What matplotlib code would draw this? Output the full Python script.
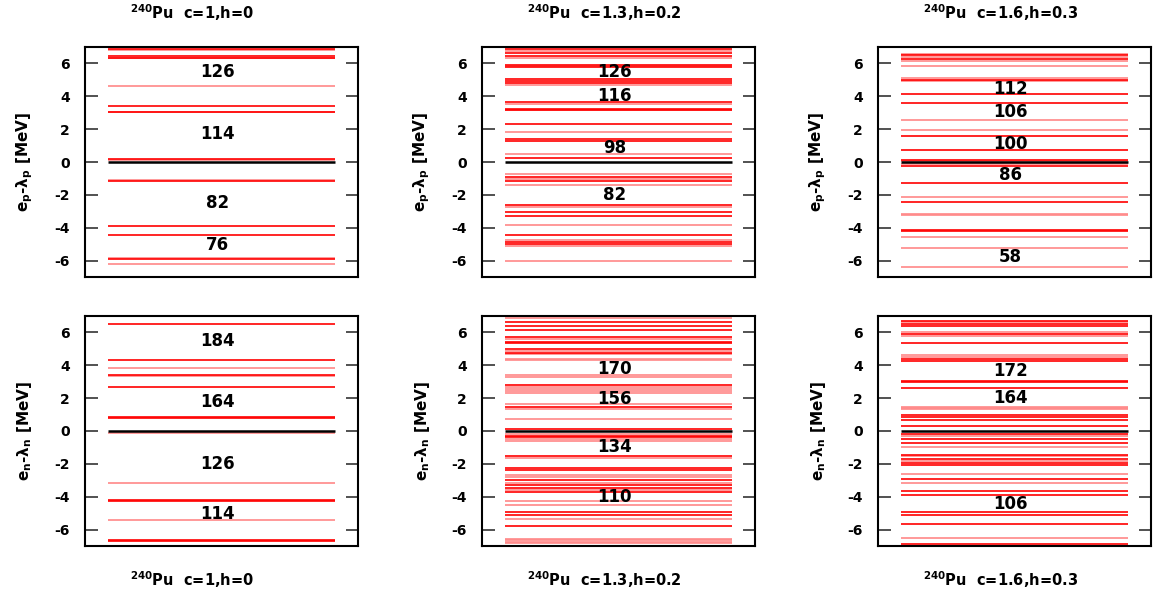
import matplotlib
matplotlib.use("Agg")
import matplotlib.pyplot as plt

plt.rcParams['font.family'] = ['DejaVu Sans']
plt.rcParams['font.weight'] = 'bold'
plt.rcParams['mathtext.fontset'] = 'dejavusans'
plt.rcParams['mathtext.default'] = 'bf'

# ---------------- data ----------------
titles = ["c=1,h=0", "c=1.3,h=0.2", "c=1.6,h=0.3"]

# protons (top row): strong (red) and weak (light red) levels, MeV relative to lambda_p
p_strong_1 = [6.88, 6.48, 6.32, 3.42, 3.06, 0.18, -1.15, -3.87, -4.47, -5.89]
p_weak_1 = [6.84, 6.36, 4.64, 3.02, 0.14, -1.12, -5.85, -6.23]
p_magic_1 = ["126", "114", "82", "76"]
p_magic_y_1 = [5.48, 1.73, -2.49, -5.03]

p_strong_2 = [6.88, 6.62, 6.48, 5.91, 5.79, 5.06, 4.94, 4.82, 3.64, 3.24, 3.14, 2.33,
              1.38, 1.30, 0.24, -0.93, -1.17, -2.59, -3.02, -3.26, -4.47, -4.86, -4.98]
p_weak_2 = [6.76, 6.36, 5.85, 4.70, 3.56, 3.19, 1.82, 0.49, -0.71, -1.01, -1.38, -2.73,
            -3.83, -4.76, -5.10, -6.01]
p_magic_2 = ["126", "116", "98", "82"]
p_magic_y_2 = [5.48, 4.00, 0.86, -1.98]

p_strong_3 = [6.50, 6.28, 5.02, 4.15, 3.62, 1.58, 0.75, 0.14, -0.24, -1.26, -2.41,
              -4.11, -4.19]
p_weak_3 = [6.60, 6.40, 6.17, 5.83, 5.12, 4.92, 2.53, 1.92, 0.08, -0.14, -2.13, -3.14,
            -3.24, -4.57, -5.22, -6.38]
p_magic_3 = ["112", "106", "100", "86", "58"]
p_magic_y_3 = [4.46, 3.02, 1.10, -0.77, -5.80]

# neutrons (bottom row)
n_strong_1 = [6.50, 4.31, 3.40, 2.65, 0.85, 0.82, -4.21, -4.26, -6.64, -6.68]
n_weak_1 = [3.83, 3.34, -0.12, -3.18, -5.40]
n_magic_1 = ["184", "164", "126", "114"]
n_magic_y_1 = [5.48, 1.78, -1.99, -5.03]

n_strong_2 = [6.98, 6.66, 6.42, 6.17, 5.71, 5.43, 5.34, 4.98, 4.74, 2.77, 1.48, 0.14,
              -0.28, -0.38, -1.50, -2.25, -2.35, -2.96, -3.28, -3.48, -3.70, -4.94,
              -5.14, -5.81]
n_weak_2 = [6.90, 5.59, 4.86, 4.66, 4.41, 4.31, 3.38, 3.28, 2.67, 2.53, 2.41, 2.29,
            1.64, 1.36, 0.75, -0.18, -0.49, -0.61, -1.62, -2.67, -2.79, -3.16, -3.58,
            -4.27, -4.53, -5.36, -6.58, -6.66, -6.74, -6.84]
n_magic_2 = ["170", "156", "134", "110"]
n_magic_y_2 = [3.79, 1.93, -0.97, -4.00]

n_strong_3 = [6.72, 6.52, 6.42, 5.89, 5.36, 4.39, 4.27, 3.04, 3.00, 2.63, 0.95, 0.85,
              0.69, 0.32, -0.20, -0.51, -0.71, -1.44, -1.70, -1.96, -2.06, -2.92,
              -3.68, -3.89, -4.94, -5.14, -5.69, -6.90]
n_weak_3 = [6.62, 6.00, 5.77, 4.61, 4.51, 1.48, 1.40, 1.32, -0.30, -0.97, -1.54,
            -1.80, -2.61, -3.18, -6.54]
n_magic_3 = ["172", "164", "106"]
n_magic_y_3 = [3.65, 1.99, -4.46]

yticks = [-6, -4, -2, 0, 2, 4, 6]

# ---------------- figure ----------------
W, H = 1156, 599
fig = plt.figure(figsize=(W / 100, H / 100), dpi=100)

lefts = [85, 482, 878]
ax_w = 273
rows = [(47, 277), (316, 546)]

panels = [
    [(p_strong_1, p_weak_1, p_magic_1, p_magic_y_1),
     (p_strong_2, p_weak_2, p_magic_2, p_magic_y_2),
     (p_strong_3, p_weak_3, p_magic_3, p_magic_y_3)],
    [(n_strong_1, n_weak_1, n_magic_1, n_magic_y_1),
     (n_strong_2, n_weak_2, n_magic_2, n_magic_y_2),
     (n_strong_3, n_weak_3, n_magic_3, n_magic_y_3)],
]
ylabels = ["e$_\\mathbf{p}$-λ$_\\mathbf{p}$ [MeV]", "e$_\\mathbf{n}$-λ$_\\mathbf{n}$ [MeV]"]

for r, (top, bot) in enumerate(rows):
    for c in range(3):
        strong, weak, magic, magic_y = panels[r][c]
        left = lefts[c]
        ax = fig.add_axes([left / W, (H - bot) / H, ax_w / W, (bot - top) / H])
        ax.set_xlim(0, 1)
        ax.set_ylim(-7, 7)
        ax.hlines(weak, 0.084, 0.916, colors='#ff8888', linewidth=1.2)
        ax.hlines(strong, 0.084, 0.916, colors='#ff0000', linewidth=1.2)
        ax.hlines([0], 0.084, 0.916, colors='black', linewidth=1.8)
        for lab, yy in zip(magic, magic_y):
            ax.text(0.485, yy, lab, ha='center', va='center', fontsize=12,
                    fontweight='bold')
        ax.set_xticks([])
        ax.set_yticks(yticks)
        ax.set_yticklabels([str(t) for t in yticks])
        ax.tick_params(axis='y', direction='in', length=9, width=1.2, right=True,
                       labelsize=10, pad=11, color='#333333')
        for s in ax.spines.values():
            s.set_linewidth(1.5)
        for t in ax.get_yticklabels():
            t.set_fontweight('bold')
        # y label
        fig.text((left - 60) / W, (H - (top + bot) / 2) / H, ylabels[r],
                 rotation=90, ha='center', va='center', fontsize=11,
                 fontweight='bold')
        # title text (top for row 0, bottom for row 1)
        ty = 13 if r == 0 else 580
        fig.text((left + 45) / W, (H - ty) / H,
                 "$^{\\mathbf{240}}$Pu  " + titles[c], ha='left', va='center',
                 fontsize=10.5, fontweight='bold')

fig.savefig("out.png", dpi=100)
